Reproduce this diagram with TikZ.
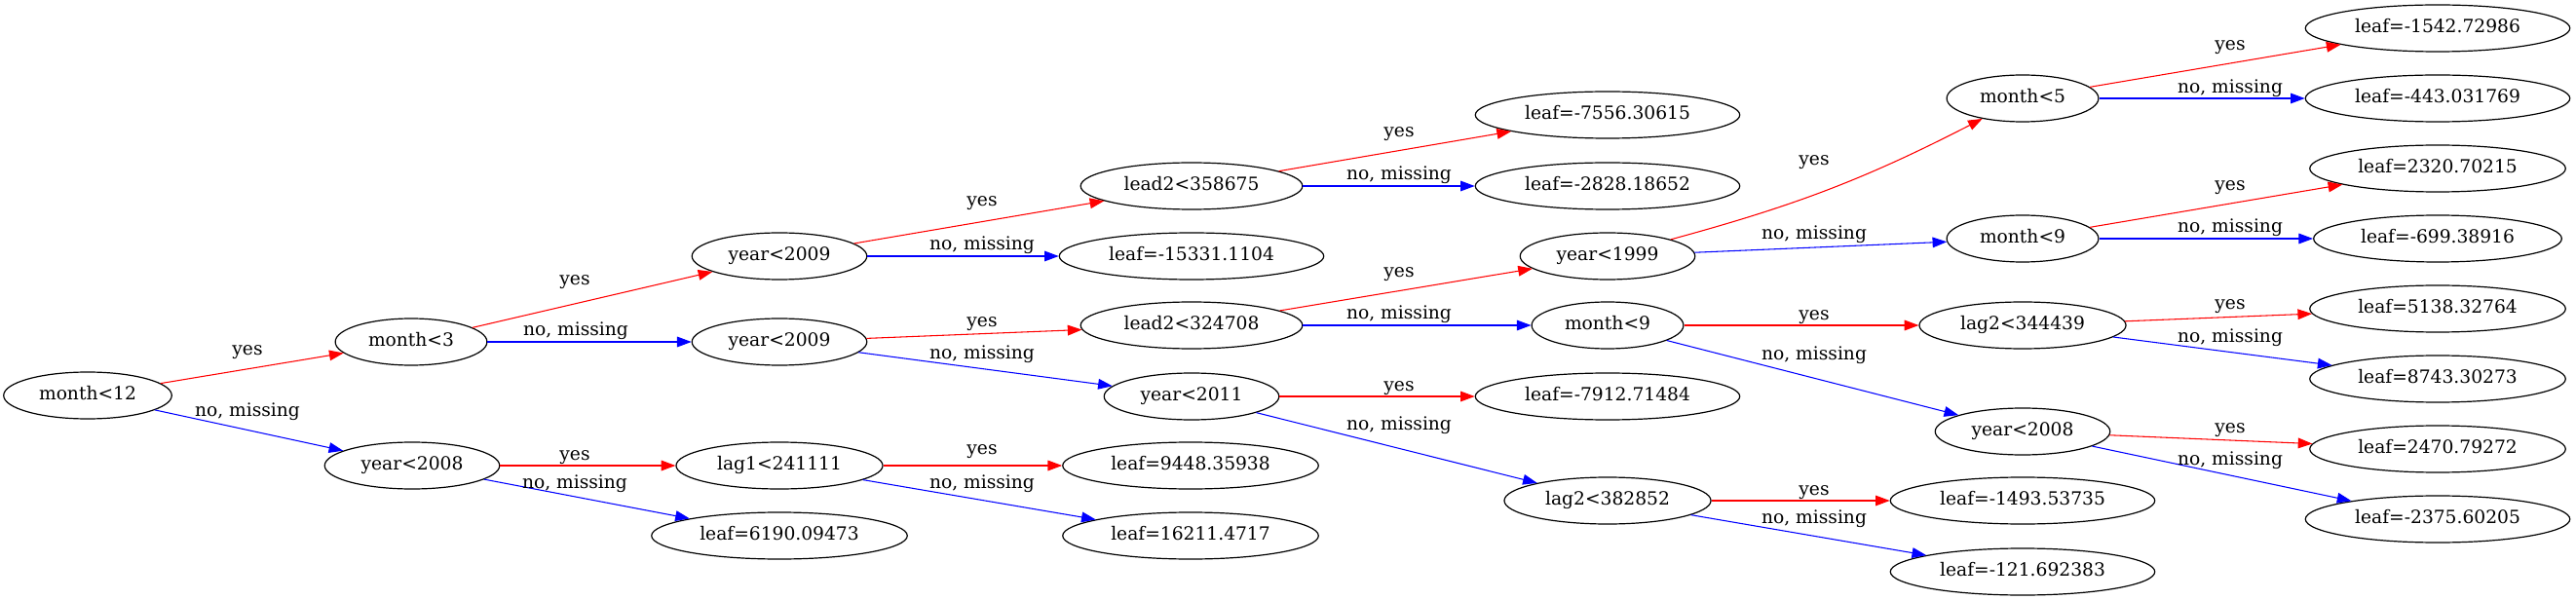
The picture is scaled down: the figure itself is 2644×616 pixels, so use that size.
\documentclass[tikz,border=0pt]{standalone}
\usepackage{fontspec}
\setmainfont{DejaVu Serif}
\usetikzlibrary{shapes.geometric, arrows.meta}
\usepackage{xcolor}

\begin{document}
\begin{tikzpicture}[
    x=0.75pt, y=-0.75pt,
    every node/.style={font=\fontsize{14pt}{16pt}\selectfont, text height=10.5pt, text depth=3.3pt},
    tnode/.style={ellipse, draw, line width=0.9pt, inner xsep=8.3pt, inner ysep=2pt, minimum height=36pt},
    lbl/.style={inner sep=0pt},
    yesedge/.style={draw=red, line width=0.8pt, -{Triangle[length=11pt, width=8pt, fill=red]}},
    noedge/.style={draw=blue, line width=0.8pt, -{Triangle[length=11pt, width=8pt, fill=blue]}}
]
\useasboundingbox (0,0) rectangle (2644,616);

% splits
\node[tnode] (m12) at (90,406) {month<12};
\node[tnode] (m3) at (422,351) {month<3};
\node[tnode] (y08a) at (423,478) {year<2008};
\node[tnode] (y09a) at (800,263) {year<2009};
\node[tnode] (y09b) at (800,351) {year<2009};
\node[tnode] (lag1) at (800,478) {lag1<241111};
\node[tnode] (ld2a) at (1223,191) {lead2<358675};
\node[tnode] (ld2b) at (1223,334) {lead2<324708};
\node[tnode] (y11) at (1223,407) {year<2011};
\node[tnode] (y99) at (1650,263) {year<1999};
\node[tnode] (m9a) at (1650,334) {month<9};
\node[tnode] (lag2a) at (1650,514) {lag2<382852};
\node[tnode] (m5) at (2076,101) {month<5};
\node[tnode] (m9b) at (2076,245) {month<9};
\node[tnode] (lag2b) at (2076,334) {lag2<344439};
\node[tnode] (y08b) at (2076,443) {year<2008};

% leaves
\node[tnode] (l6190) at (800,550) {leaf=6190.09473};
\node[tnode] (l15331) at (1223,263) {leaf=-15331.1104};
\node[tnode] (l9448) at (1222,478) {leaf=9448.35938};
\node[tnode] (l16211) at (1222,550) {leaf=16211.4717};
\node[tnode] (l7556) at (1650,118) {leaf=-7556.30615};
\node[tnode] (l2828) at (1650,191) {leaf=-2828.18652};
\node[tnode] (l7912) at (1650,407) {leaf=-7912.71484};
\node[tnode] (l1493) at (2076,514) {leaf=-1493.53735};
\node[tnode] (l121) at (2076,587) {leaf=-121.692383};
\node[tnode] (l1542) at (2502,29) {leaf=-1542.72986};
\node[tnode] (l443) at (2502,101) {leaf=-443.031769};
\node[tnode] (l2320) at (2502,173) {leaf=2320.70215};
\node[tnode] (l699) at (2502,245) {leaf=-699.38916};
\node[tnode] (l5138) at (2502,317) {leaf=5138.32764};
\node[tnode] (l8743) at (2502,389) {leaf=8743.30273};
\node[tnode] (l2470) at (2502,461) {leaf=2470.79272};
\node[tnode] (l2375) at (2502,533) {leaf=-2375.60205};

% edges
\draw[yesedge] (m12) -- (m3);
\draw[noedge] (m12) -- (y08a);
\draw[yesedge] (m3) -- (y09a);
\draw[noedge] (m3) -- (y09b);
\draw[yesedge] (y08a) -- (lag1);
\draw[noedge] (y08a) -- (l6190);
\draw[yesedge] (y09a) -- (ld2a);
\draw[noedge] (y09a) -- (l15331);
\draw[yesedge] (y09b) -- (ld2b);
\draw[noedge] (y09b) -- (y11);
\draw[yesedge] (lag1) -- (l9448);
\draw[noedge] (lag1) -- (l16211);
\draw[yesedge] (ld2a) -- (l7556);
\draw[noedge] (ld2a) -- (l2828);
\draw[yesedge] (ld2b) -- (y99);
\draw[noedge] (ld2b) -- (m9a);
\draw[yesedge] (y11) -- (l7912);
\draw[noedge] (y11) -- (lag2a);
\draw[yesedge] (y99) to[bend right=6] (m5);
\draw[noedge] (y99) -- (m9b);
\draw[yesedge] (m9a) -- (lag2b);
\draw[noedge] (m9a) -- (y08b);
\draw[yesedge] (lag2a) -- (l1493);
\draw[noedge] (lag2a) -- (l121);
\draw[yesedge] (m5) -- (l1542);
\draw[noedge] (m5) -- (l443);
\draw[yesedge] (m9b) -- (l2320);
\draw[noedge] (m9b) -- (l699);
\draw[yesedge] (lag2b) -- (l5138);
\draw[noedge] (lag2b) -- (l8743);
\draw[yesedge] (y08b) -- (l2470);
\draw[noedge] (y08b) -- (l2375);

% edge labels
\node[lbl] (m12-y) at (254,360) {yes};
\node[lbl] (m12-n) at (254,423) {no, missing};
\node[lbl] (m3-y) at (590,288) {yes};
\node[lbl] (m3-n) at (591,340) {no, missing};
\node[lbl] (y08a-y) at (590,468) {yes};
\node[lbl] (y08a-n) at (590,497) {no, missing};
\node[lbl] (y09a-y) at (1008,207) {yes};
\node[lbl] (y09a-n) at (1008,252) {no, missing};
\node[lbl] (y09b-y) at (1008,331) {yes};
\node[lbl] (y09b-n) at (1008,364) {no, missing};
\node[lbl] (lag1-y) at (1008,462) {yes};
\node[lbl] (lag1-n) at (1008,497) {no, missing};
\node[lbl] (ld2a-y) at (1436,136) {yes};
\node[lbl] (ld2a-n) at (1436,180) {no, missing};
\node[lbl] (ld2b-y) at (1436,280) {yes};
\node[lbl] (ld2b-n) at (1436,323) {no, missing};
\node[lbl] (y11-y) at (1436,397) {yes};
\node[lbl] (y11-n) at (1436,437) {no, missing};
\node[lbl] (y99-y) at (1862,165) {yes};
\node[lbl] (y99-n) at (1862,241) {no, missing};
\node[lbl] (m9a-y) at (1862,324) {yes};
\node[lbl] (m9a-n) at (1862,365) {no, missing};
\node[lbl] (lag2a-y) at (1862,504) {yes};
\node[lbl] (lag2a-n) at (1862,533) {no, missing};
\node[lbl] (m5-y) at (2289,47) {yes};
\node[lbl] (m5-n) at (2289,91) {no, missing};
\node[lbl] (m9b-y) at (2289,191) {yes};
\node[lbl] (m9b-n) at (2289,234) {no, missing};
\node[lbl] (lag2b-y) at (2289,313) {yes};
\node[lbl] (lag2b-n) at (2289,347) {no, missing};
\node[lbl] (y08b-y) at (2289,440) {yes};
\node[lbl] (y08b-n) at (2289,473) {no, missing};
\end{tikzpicture}
\end{document}
